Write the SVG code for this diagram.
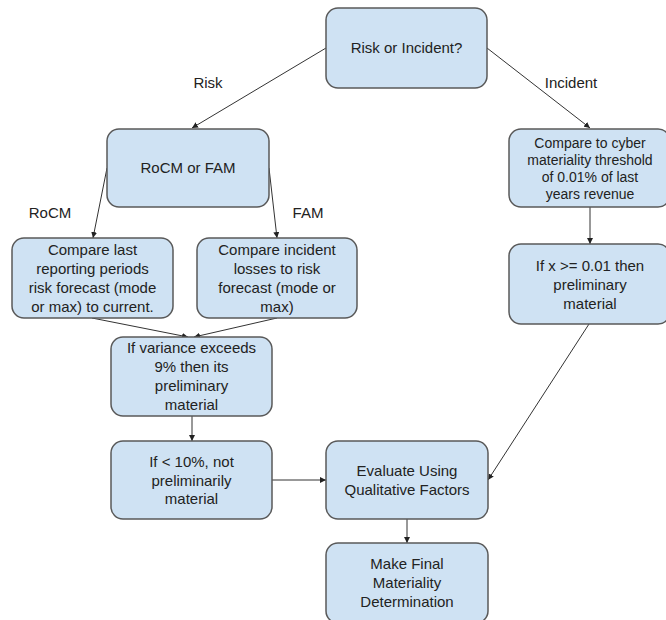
<svg xmlns="http://www.w3.org/2000/svg" width="666" height="620" viewBox="0 0 666 620">
<defs>
<marker id="ah" viewBox="0 0 10 10" refX="10" refY="5" markerWidth="6" markerHeight="6" orient="auto" markerUnits="userSpaceOnUse">
<path d="M0,0 L10,5 L0,10 z" fill="#222"/>
</marker>
<style>
.box{fill:#cfe2f3;stroke:#595959;stroke-width:1.5}
.t{font-family:"Liberation Sans",Arial,sans-serif;font-size:15px;fill:#222;text-anchor:middle}
.s{font-size:14px}
.c{fill:none;stroke:#333;stroke-width:1;marker-end:url(#ah)}
</style>
</defs>
<rect width="666" height="620" fill="#fff"/>
<g id="connectors">
<line class="c" x1="326" y1="48" x2="192" y2="128"/>
<line class="c" x1="487" y1="48" x2="590" y2="128"/>
<line class="c" x1="107" y1="168" x2="93" y2="238"/>
<line class="c" x1="269" y1="168" x2="277" y2="238"/>
<line class="c" x1="92" y1="318" x2="188" y2="337"/>
<line class="c" x1="277" y1="318" x2="194" y2="337"/>
<line class="c" x1="590" y1="207" x2="590" y2="244"/>
<line class="c" x1="192" y1="416" x2="192" y2="441"/>
<line class="c" x1="272" y1="480" x2="326" y2="480"/>
<line class="c" x1="589" y1="324" x2="488" y2="480"/>
<line class="c" x1="407" y1="519" x2="407" y2="543"/>
<text class="t" x="208" y="88">Risk</text>
<text class="t" x="571" y="88">Incident</text>
<text class="t" x="50" y="218">RoCM</text>
<text class="t" x="308" y="218">FAM</text>
</g>
<g id="risk-or-incident">
<rect class="box" x="326" y="8" width="161" height="80" rx="12"/>
<text class="t" x="406.5" y="53">Risk or Incident?</text>
</g>
<g id="rocm-or-fam">
<rect class="box" x="107" y="129" width="162" height="78" rx="12"/>
<text class="t" x="188" y="173">RoCM or FAM</text>
</g>
<g id="compare-cyber">
<rect class="box" x="509" y="129" width="161" height="78" rx="12"/>
<text class="t s" x="590" y="148">Compare to cyber</text>
<text class="t s" x="590" y="165">materiality threshold</text>
<text class="t s" x="590" y="182">of 0.01% of last</text>
<text class="t s" x="590" y="199">years revenue</text>
</g>
<g id="compare-last">
<rect class="box" x="12" y="238" width="161" height="80" rx="12"/>
<text class="t" x="92.5" y="255">Compare last</text>
<text class="t" x="92.5" y="274">reporting periods</text>
<text class="t" x="92.5" y="293">risk forecast (mode</text>
<text class="t" x="92.5" y="312">or max) to current.</text>
</g>
<g id="compare-incident">
<rect class="box" x="197" y="238" width="160" height="80" rx="12"/>
<text class="t" x="277" y="255">Compare incident</text>
<text class="t" x="277" y="274">losses to risk</text>
<text class="t" x="277" y="293">forecast (mode or</text>
<text class="t" x="277" y="312">max)</text>
</g>
<g id="if-x">
<rect class="box" x="509" y="244" width="161" height="80" rx="12"/>
<text class="t" x="590" y="271">If x &gt;= 0.01 then</text>
<text class="t" x="590" y="290">preliminary</text>
<text class="t" x="590" y="309">material</text>
</g>
<g id="if-variance">
<rect class="box" x="111" y="337" width="161" height="79" rx="12"/>
<text class="t" x="191.5" y="353">If variance exceeds</text>
<text class="t" x="191.5" y="372">9% then its</text>
<text class="t" x="191.5" y="391">preliminary</text>
<text class="t" x="191.5" y="410">material</text>
</g>
<g id="if-less">
<rect class="box" x="111" y="441" width="161" height="78" rx="12"/>
<text class="t" x="191.5" y="467">If &lt; 10%, not</text>
<text class="t" x="191.5" y="486">preliminarily</text>
<text class="t" x="191.5" y="504">material</text>
</g>
<g id="evaluate">
<rect class="box" x="326" y="441" width="162" height="78" rx="12"/>
<text class="t" x="407" y="476">Evaluate Using</text>
<text class="t" x="407" y="495">Qualitative Factors</text>
</g>
<g id="make-final">
<rect class="box" x="326" y="543" width="162" height="80" rx="12"/>
<text class="t" x="407" y="569">Make Final</text>
<text class="t" x="407" y="588">Materiality</text>
<text class="t" x="407" y="607">Determination</text>
</g>
</svg>
